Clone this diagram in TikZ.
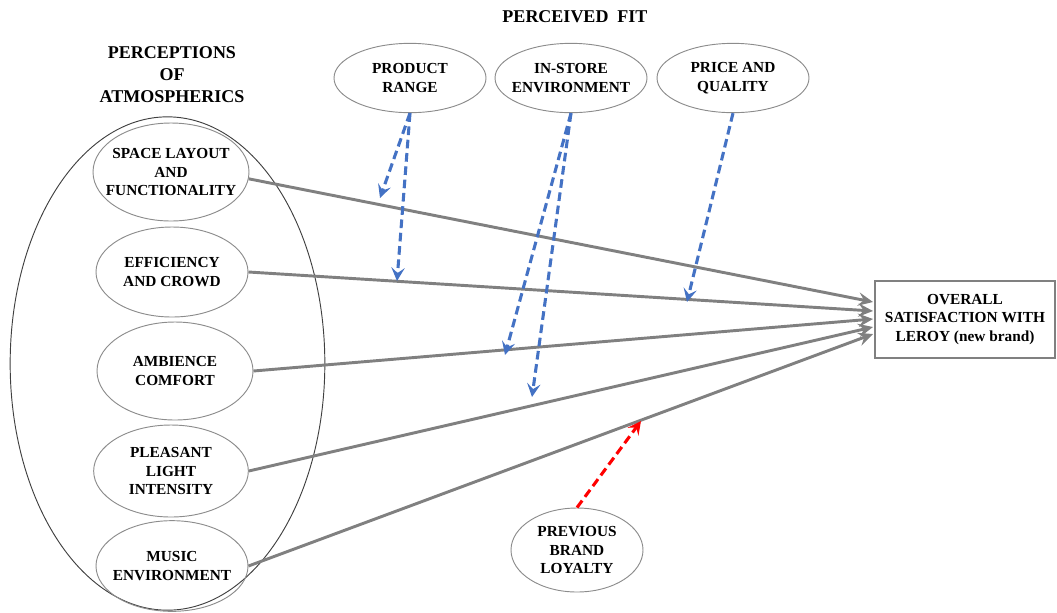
\documentclass[tikz,border=0pt]{standalone}
\usepackage{fontspec}
\setmainfont{Liberation Serif}
\usetikzlibrary{arrows.meta,positioning,calc,shapes.geometric}
\definecolor{lgray}{RGB}{128,128,128}
\definecolor{eblue}{RGB}{68,114,196}

\begin{document}
\begin{tikzpicture}[x=0.75pt,y=-0.75pt,>=Stealth,font=\bfseries\fontsize{11.5}{14.2}\selectfont]
\tikzstyle{e}=[draw=black!45,ellipse,inner sep=0pt,line width=0.7pt]
\tikzstyle{t}=[align=center,inner sep=0pt]
\tikzstyle{hd}=[align=center,inner sep=0pt,font=\bfseries\fontsize{13.5}{16.5}\selectfont]
\tikzstyle{g}=[draw=lgray,line width=2.2pt,-{Stealth[length=11pt,width=10pt,inset=4pt]}]
\tikzstyle{bl}=[draw=eblue,line width=2.3pt,dash pattern=on 6.5pt off 3.5pt,-{Stealth[length=10pt,width=10pt,inset=4pt]}]
\useasboundingbox (0,0) rectangle (1057,612);
% headings
\node[hd] (hfit) at (575,17) {PERCEIVED\ \ FIT};
\node[hd] (hatm) at (172,75) {PERCEPTIONS\\OF\\ATMOSPHERICS};
% atmospherics
\node[draw=black!75,ellipse,line width=0.7pt,minimum width=236pt,minimum height=370pt,inner sep=0pt] (atm) at (167.5,363.5) {};
\foreach \n/\x/\y/\w/\h/\s in {sp/171/172/117/73.5/{SPACE LAYOUT\\AND\\FUNCTIONALITY},ef/172/272/114/67.5/{EFFICIENCY\\AND CROWD},am/175/371/117/73.5/{AMBIENCE\\COMFORT},pl/171/471/116/69/{PLEASANT\\LIGHT\\INTENSITY},mu/172/566/114/68/{MUSIC\\ENVIRONMENT}}
  \node[e,minimum width=\w pt,minimum height=\h pt,label={[t]center:\s}] (\n) at (\x,\y) {};
% perceived fit
\foreach \n/\x/\s in {pr/410/{PRODUCT\\RANGE},is/571/{IN-STORE\\ENVIRONMENT},pq/733/{PRICE AND\\QUALITY}}
  \node[e,minimum width=114pt,minimum height=52pt,label={[t]center:\s}] (\n) at (\x,78) {};
\node[e,minimum width=99pt,minimum height=63pt,label={[t]center:{PREVIOUS\\BRAND\\LOYALTY}}] (pbl) at (577,550) {};
\node[draw=lgray,line width=2.2pt,minimum width=135pt,minimum height=57.75pt,t] (sat) at (965,319.5) {OVERALL\\SATISFACTION WITH\\LEROY (new brand)};
% end points
\coordinate (t1) at (873,302);
\coordinate (t2) at (873,311);
\coordinate (t3) at (873,319);
\coordinate (t4) at (873,327);
\coordinate (t5) at (873,334);
\coordinate (m1) at (380,198);
\coordinate (m2) at (397,281);
\coordinate (m3) at (505,355);
\coordinate (m4) at (532,397);
\coordinate (m5) at (687,302);
\coordinate (m6) at (641,421);
\draw[g] (sp.-5) -- (t1);
\draw[g] (ef.east) -- (t2);
\draw[g] (am.east) -- (t3);
\draw[g] (pl.east) -- (t4);
\draw[g] (mu.east) -- (t5);
\draw[bl] (pr.south) -- (m1);
\draw[bl] (pr.south) -- (m2);
\draw[bl] (is.south) -- (m3);
\draw[bl] (is.south) -- (m4);
\draw[bl] (pq.south) -- (m5);
\draw[bl,draw=red] (pbl.north) -- (m6);
\end{tikzpicture}
\end{document}
